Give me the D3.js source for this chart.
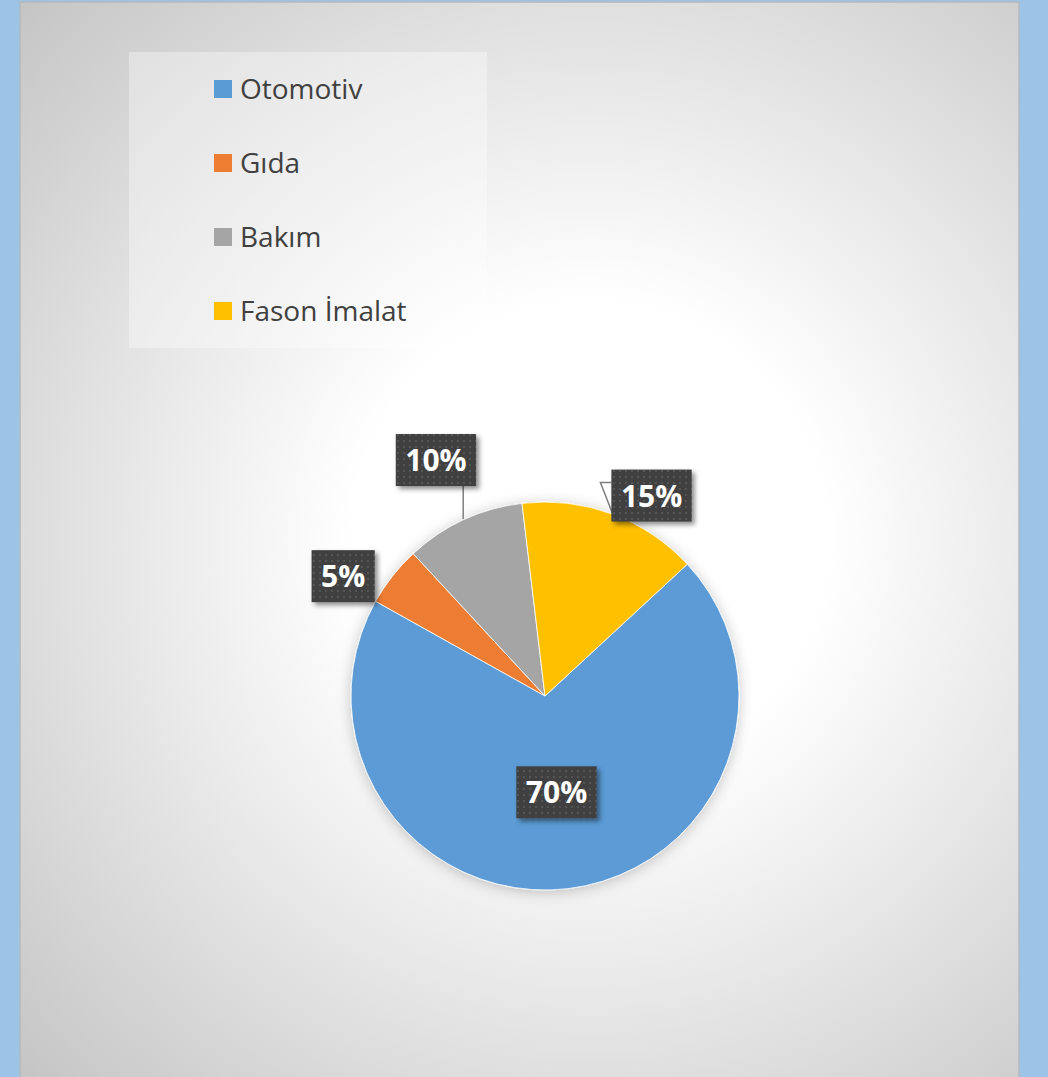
<!DOCTYPE html>
<html>
<head>
<meta charset="utf-8">
<script src="https://cdn.jsdelivr.net/npm/d3@7"></script>
<style>
  html, body { margin: 0; padding: 0; background: #9dc3e6; }
  svg { display: block; }
</style>
</head>
<body>
<div id="chart"></div>
<script>
var categories = ["Otomotiv", "Gıda", "Bakım", "Fason İmalat"];
var values = [70, 5, 10, 15];
var labels = ["70%", "5%", "10%", "15%"];

// label placement, tuned by eye (radius as share of pie radius, turn in degrees)
var labelRadius = [0.5, 1.21, 1.34, 1.17];
var labelTurn = [0, -7.5, 0, 7.8];
var leaders = [null, null, "down", "side"];

var W = 1048, H = 1077;
var cx = 545, cy = 696, R = 194;

var color = d3.scaleOrdinal()
  .domain(categories)
  .range(["#5b9bd5", "#ed7d31", "#a5a5a5", "#ffc000"]);

var svg = d3.select("#chart")
  .append("svg")
    .attr("width", W)
    .attr("height", H);

var defs = svg.append("defs");

var bg = defs.append("radialGradient")
  .attr("id", "bg")
  .attr("gradientUnits", "userSpaceOnUse")
  .attr("cx", 590).attr("cy", 540).attr("r", 790);
bg.append("stop").attr("offset", "0").attr("stop-color", "#ffffff");
bg.append("stop").attr("offset", "0.3").attr("stop-color", "#ffffff");
bg.append("stop").attr("offset", "0.6").attr("stop-color", "#e6e6e6");
bg.append("stop").attr("offset", "1").attr("stop-color", "#c4c4c4");

var dots = defs.append("pattern")
  .attr("id", "dots")
  .attr("patternUnits", "userSpaceOnUse")
  .attr("width", 6).attr("height", 6);
dots.append("rect").attr("width", 6).attr("height", 6).attr("fill", "#404040");
dots.append("rect").attr("x", 2).attr("y", 2).attr("width", 2).attr("height", 2).attr("fill", "#555555");

var shadow = defs.append("filter")
  .attr("id", "shadow")
  .attr("x", "-20%").attr("y", "-20%").attr("width", "150%").attr("height", "150%");
shadow.append("feDropShadow")
  .attr("dx", 3).attr("dy", 3).attr("stdDeviation", 2.5)
  .attr("flood-color", "#000").attr("flood-opacity", 0.45);

var glow = defs.append("filter")
  .attr("id", "glow")
  .attr("x", "-20%").attr("y", "-20%").attr("width", "140%").attr("height", "140%");
glow.append("feDropShadow")
  .attr("dx", 0).attr("dy", 2).attr("stdDeviation", 7)
  .attr("flood-color", "#000").attr("flood-opacity", 0.22);

// chart area
svg.append("rect")
  .attr("x", 20).attr("y", 2)
  .attr("width", 999).attr("height", H + 10)
  .attr("fill", "url(#bg)")
  .attr("stroke", "#b4b9be")
  .attr("stroke-width", 1.5);

// legend
var legend = svg.append("g");
legend.append("rect")
  .attr("x", 129).attr("y", 52)
  .attr("width", 358).attr("height", 296)
  .attr("fill", "#ffffff")
  .attr("fill-opacity", 0.35);

var row = d3.scalePoint()
  .domain(categories)
  .range([89, 311]);

var item = legend.selectAll(".item")
  .data(categories)
  .enter().append("g")
    .attr("class", "item")
    .attr("transform", d => `translate(214,${row(d)})`);

item.append("rect")
  .attr("y", -9)
  .attr("width", 18).attr("height", 18)
  .attr("fill", d => color(d));

item.append("text")
  .attr("x", 26)
  .attr("y", 10)
  .attr("font-family", "'Open Sans', sans-serif")
  .attr("font-size", 28)
  .attr("fill", "#404040")
  .text(d => d);

// pie
var pie = d3.pie()
  .sort(null)
  .startAngle(47.2 * Math.PI / 180)
  .endAngle(47.2 * Math.PI / 180 + 2 * Math.PI);

var arcs = pie(values);

var arc = d3.arc()
  .innerRadius(0)
  .outerRadius(R);

var g = svg.append("g")
  .attr("transform", `translate(${cx},${cy})`);

g.append("g")
  .attr("filter", "url(#glow)")
  .selectAll("path")
  .data(arcs)
  .enter().append("path")
    .attr("d", arc)
    .attr("fill", (d, i) => color(categories[i]))
    .attr("stroke", "#ffffff")
    .attr("stroke-width", 0.8);

// data labels
function polar(r, a) {
  return [r * Math.sin(a), -r * Math.cos(a)];
}

var lab = g.selectAll(".lab")
  .data(arcs)
  .enter().append("g")
    .attr("class", "lab");

lab.each(function(d, i) {
  var sel = d3.select(this);
  var mid = (d.startAngle + d.endAngle) / 2;
  var p = polar(R * labelRadius[i], mid + labelTurn[i] * Math.PI / 180);

  var t = sel.append("text")
    .attr("x", p[0])
    .attr("y", p[1] + 11)
    .attr("text-anchor", "middle")
    .attr("font-family", "'Open Sans', sans-serif")
    .attr("font-weight", "bold")
    .attr("font-size", 30)
    .attr("fill", "#ffffff")
    .text(labels[i]);

  var bw = t.node().getBBox().width + 19, bh = 52;
  var bx = p[0] - bw / 2, by = p[1] - bh / 2;

  sel.insert("rect", "text")
    .attr("x", bx).attr("y", by)
    .attr("width", bw).attr("height", bh)
    .attr("fill", "url(#dots)")
    .attr("filter", "url(#shadow)");

  var e = polar(R + 1, mid);
  var pts = null;
  if (leaders[i] === "down") pts = [e, [e[0], by + bh]];
  if (leaders[i] === "side") pts = [e, [bx - 11, by + 13], [bx, by + 13]];
  if (pts) {
    sel.insert("path", "rect")
      .attr("d", d3.line()(pts))
      .attr("fill", "none")
      .attr("stroke", "#7f7f7f")
      .attr("stroke-width", 1.5);
  }
});
</script>
</body>
</html>
